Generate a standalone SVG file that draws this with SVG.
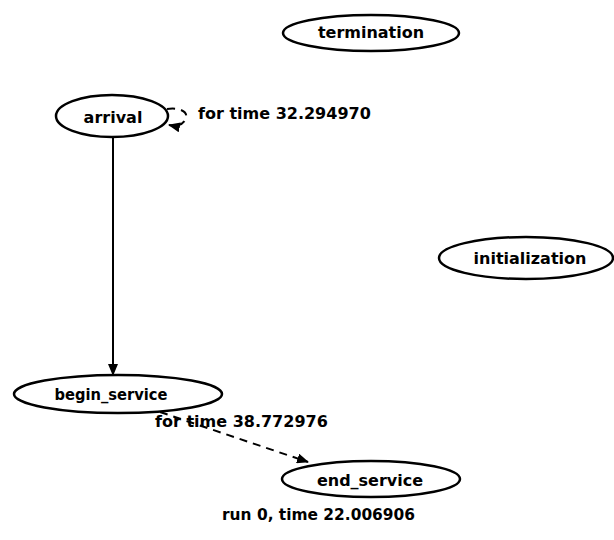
<svg xmlns="http://www.w3.org/2000/svg" width="614" height="540" viewBox="0 0 614 540">
<defs>
<marker id="ah" markerWidth="12" markerHeight="10" refX="11" refY="5" orient="auto" markerUnits="userSpaceOnUse">
<path d="M0,0 L12,5 L0,10 Z" fill="#000"/>
</marker>
<style>
.n ellipse{fill:#fff;stroke:#000;stroke-width:2.5}
text{font-family:"DejaVu Sans",sans-serif;font-size:16px;font-weight:bold;fill:#000}
.n text{text-anchor:middle}
.e{fill:none;stroke:#000;stroke-width:2}
.d{stroke-dasharray:8,6}
</style>
</defs>
<rect width="614" height="540" fill="#fff"/>
<g id="connectors">
<text x="198" y="119">for time 32.294970</text>
<text x="155" y="427">for time 38.772976</text>
<line class="e" x1="113" y1="137" x2="113" y2="375" marker-end="url(#ah)"/>
<path class="e d" d="M167,109 C180,107 188,112 186,118 C184,124 178,127 169,125" marker-end="url(#ah)"/>
<line class="e d" x1="160" y1="412" x2="308" y2="462" marker-end="url(#ah)"/>
</g>
<g id="termination" class="n"><ellipse cx="371" cy="33" rx="88" ry="18"/><text x="371" y="38">termination</text></g>
<g id="arrival" class="n"><ellipse cx="112" cy="116" rx="56" ry="21"/><text x="113" y="123">arrival</text></g>
<g id="initialization" class="n"><ellipse cx="526" cy="258" rx="87" ry="21"/><text x="530" y="264">initialization</text></g>
<g id="begin_service" class="n"><ellipse cx="118" cy="394" rx="104" ry="19"/><text x="111" y="400" textLength="113" lengthAdjust="spacingAndGlyphs">begin_service</text></g>
<g id="end_service" class="n"><ellipse cx="371" cy="479" rx="89" ry="18"/><text x="370" y="486">end_service</text></g>
<text x="222" y="520" textLength="193" lengthAdjust="spacingAndGlyphs">run 0, time 22.006906</text>
</svg>
